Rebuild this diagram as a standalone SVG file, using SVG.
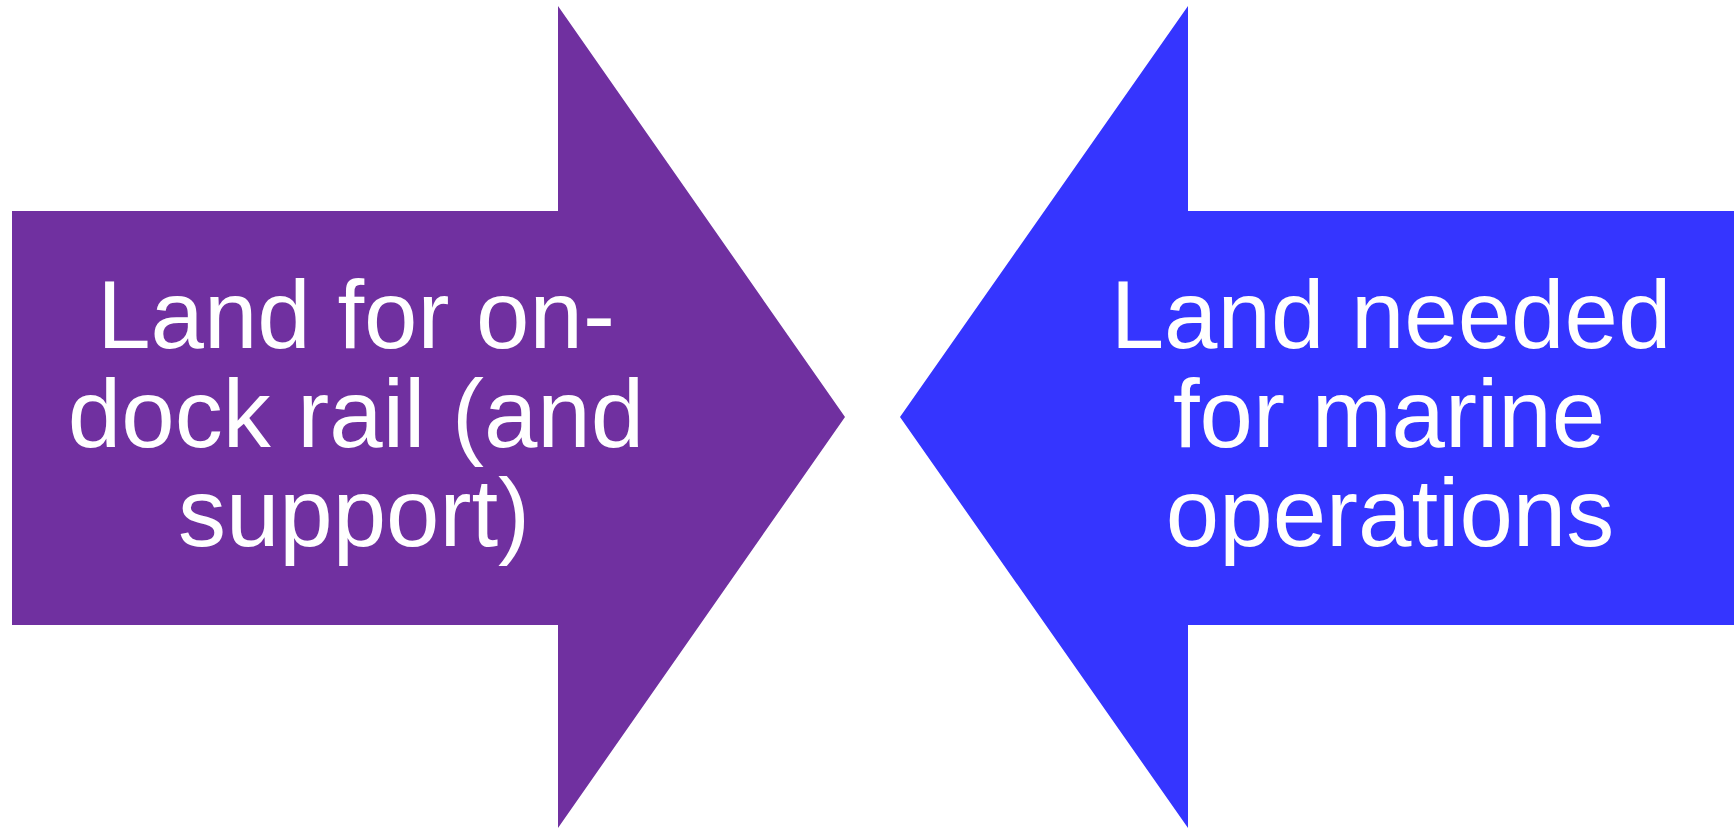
<svg xmlns="http://www.w3.org/2000/svg" width="1734" height="828" viewBox="0 0 1734 828">
<style>
.lbl{font-family:"Liberation Sans",Arial,sans-serif;font-size:96px;fill:#ffffff;text-anchor:middle}
</style>
<rect width="1734" height="828" fill="#ffffff"/>
<g id="node-left">
<polygon points="12,211 558,211 558,6 845,417 558,828 558,625 12,625" fill="#7030A0"/>
<text class="lbl"><tspan x="356" y="348">Land for on-</tspan><tspan x="356" y="447">dock rail (and</tspan><tspan x="354" y="546">support)</tspan></text>
</g>
<g id="node-right">
<polygon points="1734,211 1188,211 1188,6 900,417 1188,828 1188,625 1734,625" fill="#3535FF"/>
<text class="lbl"><tspan x="1391" y="348">Land needed</tspan><tspan x="1389" y="447">for marine</tspan><tspan x="1390" y="546">operations</tspan></text>
</g>
<g id="connectors"></g>
</svg>
